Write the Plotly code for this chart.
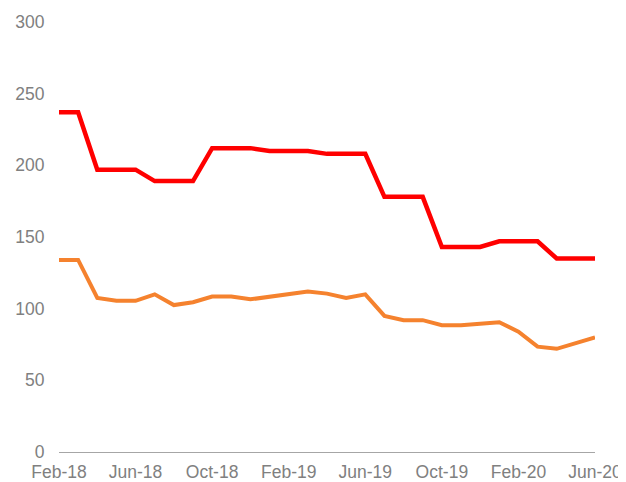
import plotly.graph_objects as go

months = ["Feb-18", "Mar-18", "Apr-18", "May-18", "Jun-18", "Jul-18", "Aug-18", "Sep-18",
          "Oct-18", "Nov-18", "Dec-18", "Jan-19", "Feb-19", "Mar-19", "Apr-19", "May-19",
          "Jun-19", "Jul-19", "Aug-19", "Sep-19", "Oct-19", "Nov-19", "Dec-19", "Jan-20",
          "Feb-20", "Mar-20", "Apr-20", "May-20", "Jun-20"]

red_values = [237, 237, 197, 197, 197, 189, 189, 189, 212, 212, 212, 210, 210, 210, 208, 208,
              208, 178, 178, 178, 143, 143, 143, 147, 147, 147, 135, 135, 135]

orange_values = [134, 134, 107.5, 105.5, 105.5, 110, 102.5, 104.5, 108.5, 108.5, 106.5, 108.5,
                 110, 112, 110.5, 107.5, 110, 95, 92, 92, 88.5, 88.5, 89.5, 90.5, 84, 73.5,
                 72, 76, 80]

x_tick_labels = ["Feb-18", "Jun-18", "Oct-18", "Feb-19", "Jun-19", "Oct-19", "Feb-20", "Jun-20"]
y_ticks = [0, 50, 100, 150, 200, 250, 300]

fig = go.Figure()
fig.add_trace(go.Scatter(x=months, y=red_values, mode="lines",
                         line=dict(color="#FF0000", width=4.5), showlegend=False))
fig.add_trace(go.Scatter(x=months, y=orange_values, mode="lines",
                         line=dict(color="#F5822E", width=4), showlegend=False))

font = dict(family="Liberation Sans, Arial, sans-serif", size=17.5, color="#808080")

fig.update_layout(
    width=618, height=474,
    margin=dict(l=51, r=31, t=14, b=30, autoexpand=False),
    paper_bgcolor="white", plot_bgcolor="white",
    font=font,
    xaxis=dict(type="category", categoryorder="array", categoryarray=months,
               range=[0, len(months) - 1], tickmode="array", tickvals=x_tick_labels,
               ticktext=x_tick_labels, showgrid=False, zeroline=False,
               showline=True, linecolor="#A6A6A6", linewidth=1.3,
               ticks="outside", ticklen=4, tickcolor="rgba(0,0,0,0)",
               tickfont=font, automargin=False),
    yaxis=dict(range=[0, 300], tickvals=y_ticks, showgrid=False, zeroline=False,
               showline=False, ticks="outside", ticklen=10, tickcolor="rgba(0,0,0,0)",
               tickfont=font, automargin=False),
)

fig.write_html("out.html")
